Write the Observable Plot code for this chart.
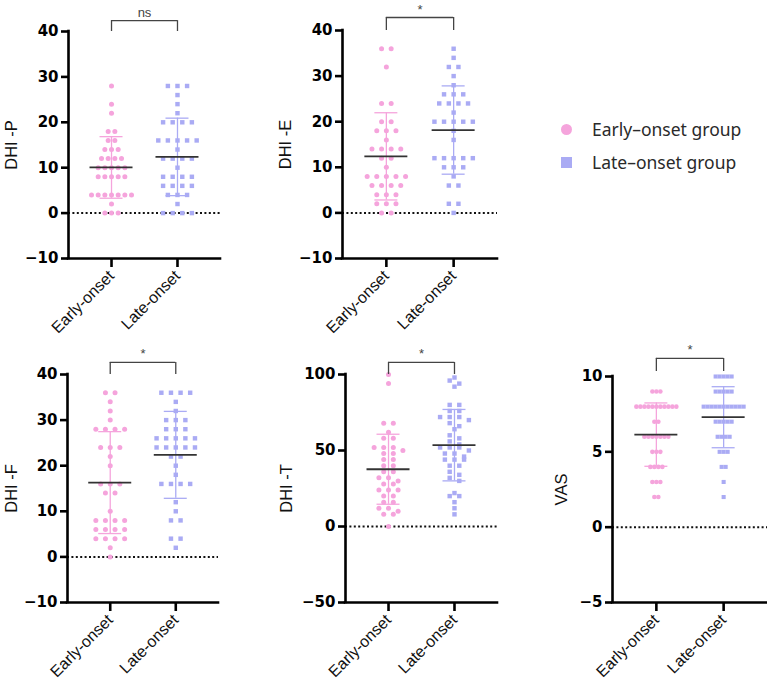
<!DOCTYPE html>
<html>
<head>
<meta charset="utf-8">
<script src="https://cdn.jsdelivr.net/npm/d3@7"></script>
<script src="https://cdn.jsdelivr.net/npm/@observablehq/plot@0.6"></script>
<style>
  body { margin: 0; background: #fff; }
  #fig { position: relative; width: 767px; height: 684px; overflow: hidden; background: #fff; }
  #fig svg { position: absolute; overflow: visible; }
  .legend { position: absolute; font-family: "Noto Sans", "Liberation Sans", sans-serif; font-size: 17.5px; color: #2a2a2a; }
  .legend .row { position: absolute; white-space: nowrap; display: flex; align-items: center; }
  .legend .sw { display: inline-block; width: 11px; height: 11px; margin-right: 20px; }
</style>
</head>
<body>
<div id="fig"></div>
<script>
// Groups and their styling
const groups = ["Early-onset", "Late-onset"];
const legendLabels = ["Early–onset group", "Late–onset group"];
const groupColors = ["#F5A4DC", "#AAABF4"];
const groupSymbols = ["circle", "square"];

// DHI physical subscale
const dhiPEarly = [28, 24, 22, 18, 18, 16, 16, 14, 14, 14, 12, 12, 12, 12, 10, 10, 10, 10, 10,
  8, 8, 8, 8, 8, 4, 4, 4, 4, 4, 4, 4, 2, 0, 0, 0];
const dhiPLate = [28, 28, 28, 26, 24, 22, 20, 20, 20, 20, 16, 16, 16, 16, 16, 14, 12, 12, 12, 12,
  10, 8, 8, 8, 8, 6, 6, 6, 6, 4, 4, 4, 2, 0, 0, 0, 0];

// DHI emotional subscale
const dhiEEarly = [36, 36, 32, 24, 24, 20, 20, 18, 18, 18, 16, 14, 14, 14, 14, 12, 12, 10,
  8, 8, 8, 8, 8, 6, 6, 6, 6, 4, 4, 4, 2, 2, 2, 0, 0];
const dhiELate = [36, 34, 32, 32, 30, 28, 26, 26, 26, 24, 24, 24, 24, 22, 20, 20, 20, 20, 20,
  18, 16, 12, 12, 12, 12, 12, 10, 10, 10, 8, 6, 6, 2, 2, 0];

// DHI functional subscale
const dhiFEarly = [36, 36, 34, 32, 30, 28, 28, 28, 28, 24, 24, 24, 22, 20, 16, 16, 16, 14, 14,
  10, 8, 8, 8, 8, 6, 6, 6, 6, 4, 4, 4, 4, 2, 0];
const dhiFLate = [36, 36, 36, 36, 34, 32, 30, 30, 30, 28, 28, 28, 26, 26, 26, 26, 26, 24, 24,
  24, 24, 24, 22, 22, 20, 18, 16, 16, 16, 16, 12, 10, 8, 8, 4, 4, 2];

// DHI total
const dhiTEarly = [100, 94, 68, 68, 62, 58, 58, 52, 52, 52, 50, 48, 48, 44, 44, 40, 40, 36, 36,
  32, 32, 30, 28, 28, 24, 24, 24, 20, 20, 16, 16, 12, 12, 10, 8, 8, 0];
const dhiTLate = [98, 96, 94, 92, 80, 80, 76, 76, 72, 72, 72, 70, 68, 66, 64, 60, 58, 56, 54,
  52, 52, 52, 50, 48, 48, 46, 44, 44, 44, 40, 40, 36, 34, 32, 30, 22, 20, 20, 16, 12, 8];

// Visual analogue scale
const vasEarly = [9, 9, 9, 8, 8, 8, 8, 8, 8, 8, 8, 8, 8, 8, 7, 7, 6, 6, 6, 6, 6, 6, 6,
  5, 5, 5, 4, 4, 4, 4, 3, 3, 3, 2, 2];
const vasLate = [10, 10, 10, 10, 10, 9, 9, 9, 9, 9, 8, 8, 8, 8, 8, 8, 8, 8, 8, 8, 8,
  7, 7, 7, 7, 7, 6, 6, 6, 6, 5, 5, 5, 4, 4, 3, 2];

// Axis ticks
const ticksDHI = [-10, 0, 10, 20, 30, 40];
const ticksTotal = [-50, 0, 50, 100];
const ticksVAS = [-5, 0, 5, 10];

// Shared x layout: the two groups sit at 1 and 2
const X_DOMAIN = [0.348, 2.652];
const MAX_STEP = 9.6;   // px between neighbouring points in a row
const MAX_ROW = 40;     // widest a row may spread, px
const MEAN_HALF = 21.5; // px
const CAP_HALF = 11.5;  // px

const panels = [
  {label: "DHI -P", data: [dhiPEarly, dhiPLate], domain: [-10, 40], ticks: ticksDHI, sig: "ns", bin: 2,
   left: 0, top: 0, width: 230, height: 330, ml: 68, mr: 10, mt: 31, mb: 72, labelDx: -57, bracket: 0.048, leg: 0, r: 2.5},
  {label: "DHI -E", data: [dhiEEarly, dhiELate], domain: [-10, 40], ticks: ticksDHI, sig: "*", bin: 2,
   left: 230, top: 0, width: 270, height: 330, ml: 112, mr: 3, mt: 30, mb: 72, labelDx: -57, bracket: 0.057, leg: 0, r: 2.5},
  {label: "DHI -F", data: [dhiFEarly, dhiFLate], domain: [-10, 40], ticks: ticksDHI, sig: "*", bin: 2,
   left: 0, top: 330, width: 230, height: 354, ml: 67, mr: 12, mt: 44, mb: 82, labelDx: -56, bracket: 0.053, leg: 0, r: 2.5},
  {label: "DHI -T", data: [dhiTEarly, dhiTLate], domain: [-50, 100], ticks: ticksTotal, sig: "*", bin: 4,
   left: 260, top: 330, width: 250, height: 354, ml: 85, mr: 13, mt: 44, mb: 82, labelDx: -59, bracket: 0.053, leg: 0, r: 2.5},
  {label: "VAS", data: [vasEarly, vasLate], domain: [-5, 10], ticks: ticksVAS, sig: "*", bin: 1,
   left: 520, top: 330, width: 247, height: 354, ml: 92, mr: 0, mt: 46, mb: 82, labelDx: -51, bracket: 0.08, leg: 0.022, r: 2.3}
];

// Scatter layout: equal (or binned) values share a row, spread evenly around the group centre
function scatter(values, gi, bin, pxPerUnit) {
  const sorted = values.slice().sort((a, b) => b - a);
  const rows = d3.groups(sorted, v => Math.round(v / bin));
  const maxN = d3.max(rows, ([, r]) => r.length);
  const step = Math.min(MAX_STEP, MAX_ROW / Math.max(1, maxN - 1)) / pxPerUnit;
  return rows.flatMap(([, r]) => r.map((v, i) => ({
    group: groups[gi], x: gi + 1 + (i - (r.length - 1) / 2) * step, y: v
  })));
}

const fig = document.getElementById("fig");

for (const p of panels) {
  const pxPerUnit = (p.width - p.ml - p.mr) / (X_DOMAIN[1] - X_DOMAIN[0]);
  const points = p.data.flatMap((vals, gi) => scatter(vals, gi, p.bin, pxPerUnit));
  const stats = p.data.map((vals, gi) => {
    const m = d3.mean(vals), s = d3.deviation(vals);
    return {group: groups[gi], x: gi + 1, mean: m, lo: m - s, hi: m + s};
  });
  const caps = stats.flatMap(d => [{...d, y: d.lo}, {...d, y: d.hi}]);
  const [yMin, yMax] = p.domain;
  const span = yMax - yMin;
  const bracketY = yMax + span * p.bracket;
  const legY = yMax + span * p.leg;
  const meanHalf = MEAN_HALF / pxPerUnit, capHalf = CAP_HALF / pxPerUnit;

  const chart = Plot.plot({
    width: p.width,
    height: p.height,
    marginLeft: p.ml,
    marginRight: p.mr,
    marginTop: p.mt,
    marginBottom: p.mb,
    style: {background: "transparent", overflow: "visible"},
    x: {type: "linear", domain: X_DOMAIN},
    y: {domain: p.domain},
    color: {domain: groups, range: groupColors},
    symbol: {domain: groups, range: groupSymbols},
    marks: [
      // dotted reference line at zero
      Plot.ruleY([0], {stroke: "#111", strokeWidth: 2, strokeDasharray: "2,2.4"}),
      // individual scores
      Plot.dot(points, {x: "x", y: "y", fill: "group", symbol: "group", r: p.r}),
      // mean ± SD
      Plot.ruleX(stats, {x: "x", y1: "lo", y2: "hi", stroke: "group", strokeWidth: 1.3}),
      Plot.ruleY(caps, {y: "y", x1: d => d.x - capHalf, x2: d => d.x + capHalf, stroke: "group", strokeWidth: 1.3}),
      Plot.ruleY(stats, {y: "mean", x1: d => d.x - meanHalf, x2: d => d.x + meanHalf, stroke: "#333", strokeWidth: 1.8}),
      // axis lines
      Plot.ruleX([X_DOMAIN[0]], {y1: yMin, y2: yMax, stroke: "#000", strokeWidth: 2.6, strokeLinecap: "square"}),
      Plot.ruleY([yMin], {x1: X_DOMAIN[0], x2: X_DOMAIN[1], stroke: "#000", strokeWidth: 2.6, strokeLinecap: "square"}),
      Plot.axisY({ticks: p.ticks, tickSize: 7, tickPadding: 3, strokeWidth: 2.6, stroke: "#000", color: "#000",
        fontSize: 15, fontWeight: "bold", fontFamily: "DejaVu Sans", label: null}),
      Plot.axisX({ticks: [1, 2], tickFormat: d => groups[d - 1], tickRotate: -45, tickSize: 9, strokeWidth: 2.6,
        stroke: "#000", color: "#111", fontSize: 16, fontFamily: "Liberation Sans", label: null}),
      // y-axis title
      Plot.text([p.label], {frameAnchor: "left", dx: p.labelDx, rotate: -90, text: d => d,
        fontSize: 16.5, fontFamily: "Liberation Sans", fill: "#111", textAnchor: "middle", lineAnchor: "middle"}),
      // significance bracket
      Plot.ruleY([bracketY], {x1: 1, x2: 2, stroke: "#444", strokeWidth: 1.3}),
      Plot.ruleX([1, 2], {y1: legY, y2: bracketY, stroke: "#444", strokeWidth: 1.3}),
      Plot.text([p.sig], {x: 1.5, y: bracketY, text: d => d, dy: -4, lineAnchor: "bottom",
        fontSize: 13, fontFamily: "Liberation Sans", fill: "#444"})
    ]
  });
  chart.style.left = p.left + "px";
  chart.style.top = p.top + "px";
  fig.appendChild(chart);
}

// Legend
const legend = document.createElement("div");
legend.className = "legend";
legend.style.left = "561px";
legend.style.top = "0px";
legendLabels.forEach((name, i) => {
  const row = document.createElement("div");
  row.className = "row";
  row.style.top = (117 + i * 33) + "px";
  const sw = document.createElement("span");
  sw.className = "sw";
  sw.style.background = groupColors[i];
  if (groupSymbols[i] === "circle") sw.style.borderRadius = "50%";
  row.appendChild(sw);
  row.appendChild(document.createTextNode(name));
  legend.appendChild(row);
});
fig.appendChild(legend);
</script>
</body>
</html>
